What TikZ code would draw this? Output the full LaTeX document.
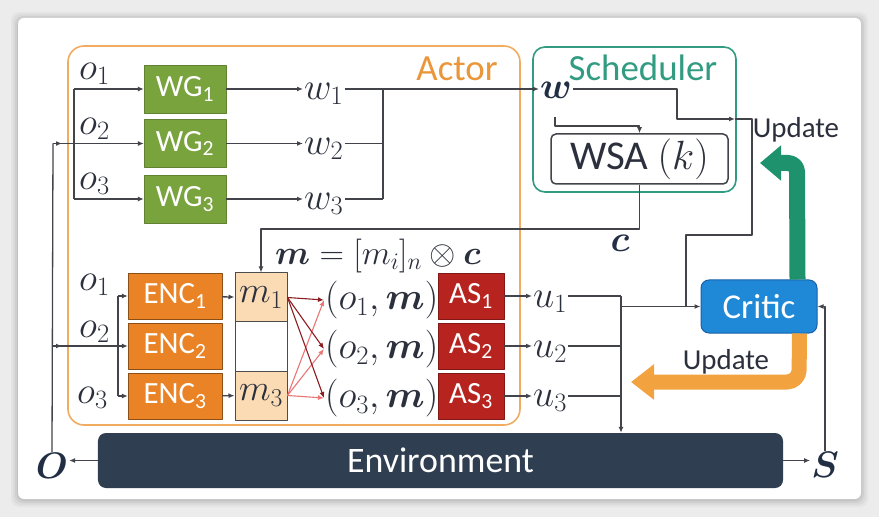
\RequirePackage{fix-cm}
\documentclass[tikz,border=0pt]{standalone}
\usepackage{amsmath}
\usepackage{bm}
\usepackage{fontspec}
\setmainfont{Carlito}
\usetikzlibrary{arrows.meta}
\definecolor{wgcol}{RGB}{121,163,61}
\definecolor{enccol}{RGB}{233,131,38}
\definecolor{ascol}{RGB}{183,36,32}
\definecolor{mcol}{RGB}{250,219,180}
\definecolor{criticcol}{RGB}{31,137,216}
\definecolor{criticline}{RGB}{24,96,168}
\definecolor{envcol}{RGB}{47,62,80}
\definecolor{actorcol}{RGB}{241,172,96}
\definecolor{actortext}{RGB}{234,150,58}
\definecolor{schedcol}{RGB}{50,156,130}
\definecolor{updgreen}{RGB}{30,146,108}
\definecolor{updorange}{RGB}{242,162,62}
\definecolor{linecol}{RGB}{66,68,74}
\definecolor{labcol}{RGB}{44,48,60}
\definecolor{boldcol}{RGB}{34,46,68}
\definecolor{darkred}{RGB}{140,30,34}
\definecolor{lightred}{RGB}{234,118,118}
\definecolor{bggray}{RGB}{236,236,236}
\begin{document}
\begin{tikzpicture}[x=1bp,y=-1bp,>={Latex[length=6bp,width=5bp]},line join=bevel,
  conn/.style={draw=linecol,line width=1.3bp},
  lbl/.style={text=labcol,font=\fontsize{38}{38}\selectfont,inner sep=1bp},
  boldlbl/.style={text=boldcol,font=\fontsize{37}{37}\selectfont,inner sep=1bp},
  blockbox/.style={text=white,font=\fontsize{31}{31}\selectfont,inner sep=0pt,minimum height=46bp},
  wgbox/.style={blockbox,fill=wgcol,draw=wgcol!80!black,minimum width=82bp,minimum height=48bp},
  encbox/.style={blockbox,fill=enccol,draw=enccol!60!black,minimum width=94bp},
  asbox/.style={blockbox,fill=ascol,draw=ascol!70!black,minimum width=66bp},
  mcell/.style={draw=gray!60!black,line width=1bp,minimum width=52bp,minimum height=49bp,inner sep=0pt,text=labcol,font=\fontsize{37}{37}\selectfont},
  updlbl/.style={text=labcol,font=\fontsize{29}{29}\selectfont},
  crossarrow/.style={line width=1.1bp,->}]
%% background card
\fill[bggray] (0,0) rectangle (879,517);
\foreach \s/\o in {7/0.03,5/0.04,3/0.05,1/0.06}
  \fill[black,opacity=\o,rounded corners=8bp] (18-\s,19-\s) rectangle (861+\s,500+\s);
\fill[white,rounded corners=6bp] (18,18) rectangle (861,499);
%%
  % Node: actor
\draw[actorcol,line width=1.6bp,rounded corners=16bp] (68,46) rectangle (520,425);
\node[text=actortext,font=\fontsize{37}{37}\selectfont] (actorlbl) at (457,69) {Actor};
  % Node: scheduler
\draw[schedcol,line width=1.6bp,rounded corners=12bp] (533,47) rectangle (736,192);
\node[text=schedcol,font=\fontsize{37}{37}\selectfont] (schedlbl) at (643,68) {Scheduler};
  % Node: wg1 .. wg3
\node[wgbox] (wg1) at (185,89) {WG\textsubscript{1}};
\node[wgbox] (wg2) at (185,143.5) {WG\textsubscript{2}};
\node[wgbox] (wg3) at (185,199) {WG\textsubscript{3}};
\node[lbl,anchor=west] (oa1) at (78,74) {$o_1$};
\node[lbl,anchor=west] (oa2) at (78,129) {$o_2$};
\node[lbl,anchor=west] (oa3) at (78,184) {$o_3$};
\node[lbl,anchor=west] (w1) at (303,94) {$w_1$};
\node[lbl,anchor=west] (w2) at (303,149) {$w_2$};
\node[lbl,anchor=west] (w3) at (303,204) {$w_3$};
  % Node: wsch, wsa
\node[boldlbl] (wsch) at (556,90) {$\bm{w}$};
\node[draw=linecol,line width=1.5bp,rounded corners=5bp,minimum width=177bp,minimum height=50bp,inner sep=0pt,text=labcol,font=\fontsize{41}{41}\selectfont] (wsa) at (639.5,159) {WSA $(k)$};
\node[boldlbl] (clbl) at (620,243) {$\bm{c}$};
\node[lbl,font=\fontsize{34}{34}\selectfont] (mform) at (378,256) {$\bm{m}=[m_i]_n\otimes\bm{c}$};
  % Node: enc1 .. enc3
\node[encbox] (enc1) at (175,296) {ENC\textsubscript{1}};
\node[encbox] (enc2) at (175,346) {ENC\textsubscript{2}};
\node[encbox] (enc3) at (175,396) {ENC\textsubscript{3}};
\node[lbl,anchor=west] (ob1) at (78,285) {$o_1$};
\node[lbl,anchor=west] (ob2) at (78,332) {$o_2$};
\node[lbl,anchor=west] (ob3) at (76,398) {$o_3$};
  % Node: m cells
\node[mcell,fill=mcol] (mcell1) at (261,297.5) {$m_1$};
\node[mcell,fill=white] (mcell2) at (261,346.5) {};
\node[mcell,fill=mcol] (mcell3) at (261,395.5) {$m_3$};
  % Node: om1 .. om3, as1 .. as3, u1 .. u3
\node[lbl,anchor=west] (om1) at (324,300) {$(o_1,\bm{m})$};
\node[lbl,anchor=west] (om2) at (324,349) {$(o_2,\bm{m})$};
\node[lbl,anchor=west] (om3) at (324,398) {$(o_3,\bm{m})$};
\node[asbox] (as1) at (471,296) {AS\textsubscript{1}};
\node[asbox] (as2) at (471,346) {AS\textsubscript{2}};
\node[asbox] (as3) at (471,396) {AS\textsubscript{3}};
\node[lbl,anchor=west] (u1) at (532,302) {$u_1$};
\node[lbl,anchor=west] (u2) at (532,352) {$u_2$};
\node[lbl,anchor=west] (u3) at (532,401) {$u_3$};
  % Node: critic, env, O, S
\node[fill=criticcol,draw=criticline,line width=1bp,rounded corners=8bp,minimum width=116bp,minimum height=53bp,text=white,font=\fontsize{35}{35}\selectfont] (critic) at (759,306.5) {Critic};
\node[fill=envcol,rounded corners=8bp,minimum width=685bp,minimum height=55bp,text=white,font=\fontsize{36}{36}\selectfont] (env) at (440.5,460.5) {Environment};
\node[boldlbl] (onode) at (52,466) {$\bm{O}$};
\node[boldlbl] (snode) at (825,465) {$\bm{S}$};
\node[updlbl] (updtop) at (796,130) {Update};
\node[updlbl] (updbot) at (726,362) {Update};
%% junction points
\coordinate (otop) at (53,143.5);
\coordinate (omid) at (53,346);
\coordinate (obus1) at (74,89);
\coordinate (obus3) at (74,199);
\coordinate (wbus1) at (383,89);
\coordinate (wbus3) at (383,199);
\coordinate (ebus1) at (118,296);
\coordinate (ebus3) at (118,396);
\coordinate (ubus1) at (621,296);
\coordinate (ubus3) at (621,396);
\coordinate (wtap) at (555,117);
\coordinate (updtip) at (735,119);
%%
  % Edge: onode -> wg2, enc2
\draw[conn] (onode.north) -- (otop);
\draw[conn,->] (otop) -- ++(9,0);
\draw[conn,->] (otop) -- (wg2);
\draw[conn,->] (omid) -- ++(9,0);
\draw[conn,->] (omid) -- (enc2);
  % Edge: obus -> wg1, wg3
\draw[conn] (obus1) -- (obus3);
\draw[conn,->] (obus1) -- (wg1);
\draw[conn,->] (obus3) -- (wg3);
  % Edge: wg -> w
\draw[conn,->] (wg1) -- (w1.west |- wg1);
\draw[conn,->] (wg2) -- (w2.west |- wg2);
\draw[conn,->] (wg3) -- (w3.west |- wg3);
  % Edge: w -> wbus -> wsch
\draw[conn] (w1.east |- wg1) -- (wbus1);
\draw[conn] (w2.east |- wg2) -- (wbus1 |- wg2);
\draw[conn] (w3.east |- wg3) -- (wbus3);
\draw[conn] (wbus1) -- (wbus3);
\draw[conn,->] (wbus1) -- (wsch.west |- wbus1);
  % Edge: wsch -> wsa
\draw[conn,->] (wtap) -- ++(0,9) -| (wsa.north);
  % Edge: wsch -> critic
\draw[conn,->] (wsch.east |- wbus1) -| (677,119) -- (updtip);
\draw[conn] (updtip) -- (752,119) |- (686,235) -- (686,306.5);
  % Edge: wsa -> mcell1
\draw[conn,->] (wsa.south) -- (wsa.south |- 0,229) -| (mcell1.north);
  % Edge: ebus -> enc1, enc3
\draw[conn] (ebus1) -- (ebus3);
\draw[conn,->] (ebus1) -- (enc1);
\draw[conn,->] (ebus3) -- (enc3);
  % Edge: enc -> mcell
\draw[conn,->] (enc1) -- (mcell1);
\draw[conn,->] (enc3) -- (mcell3);
  % Edge: mcell -> om
\draw[crossarrow,lightred] (mcell3.east) -- (om1.west);
\draw[crossarrow,lightred] (mcell3.east) -- (om2.west);
\draw[crossarrow,lightred] (mcell3.east) -- (om3.west);
\draw[crossarrow,darkred] (mcell1.east) -- (om1.west);
\draw[crossarrow,darkred] (mcell1.east) -- (om2.west);
\draw[crossarrow,darkred] (mcell1.east) -- (om3.west);
  % Edge: as -> u
\draw[conn,->] (as1) -- (u1.west |- as1);
\draw[conn,->] (as2) -- (u2.west |- as2);
\draw[conn,->] (as3) -- (u3.west |- as3);
  % Edge: u -> env, critic
\draw[conn] (u1.east |- as1) -- (ubus1);
\draw[conn] (u2.east |- as2) -- (ubus1 |- as2);
\draw[conn] (u3.east |- as3) -- (ubus3);
\draw[conn,->] (ubus1) -- (ubus1 |- env.north);
\draw[conn,->] (ubus1 |- critic.west) -- (critic.west);
  % Edge: env -> onode, snode
\draw[conn,->] (env.west) -- (onode.east |- env.west);
\draw[conn,->] (env.east) -- (snode.west |- env.east);
\draw[conn,->] (snode.north) |- (critic.east);
  % Edge: critic -> update (thick)
\draw[updgreen,line width=16bp,rounded corners=9bp,-{Triangle[length=21bp,width=34bp]}] ([xshift=-20bp]critic.north east) -- (797,163) -- (760,163);
\draw[updorange,line width=15bp,rounded corners=12bp,-{Triangle[length=23bp,width=34bp]}] ([xshift=-18bp]critic.south east) -- (799,382) -- (631,382);
%
\end{tikzpicture}
\end{document}
